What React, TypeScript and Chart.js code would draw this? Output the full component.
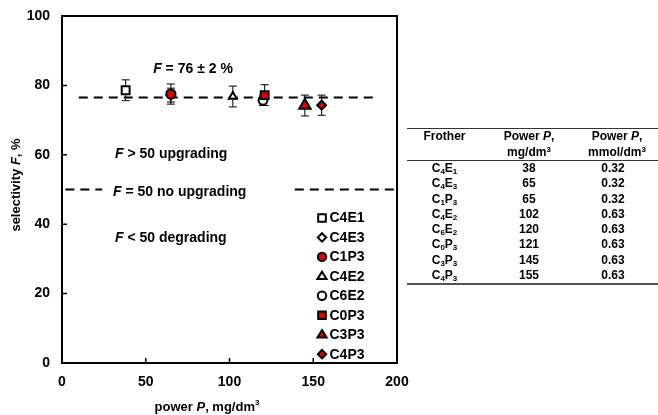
import React, { useEffect, useRef } from "react";
import { Chart, registerables } from "chart.js";
Chart.register(...registerables);

// ---------- data ----------
const frothers = ["C4E1", "C4E3", "C1P3", "C4E2", "C6E2", "C0P3", "C3P3", "C4P3"];
const powerMg = [38, 65, 65, 102, 120, 121, 145, 155];
const powerMmol = ["0.32", "0.32", "0.32", "0.63", "0.63", "0.63", "0.63", "0.63"];
const selectivity = [78.6, 77.2, 77.5, 76.8, 75.7, 77.2, 74.2, 74.3];
const errorF = [3.0, 2.0, 2.9, 3.0, 1.5, 3.0, 3.0, 2.9];
const meanF = 76.5;
const meanLineX = [10, 189];
const f50 = 50;
const f50LeftX = [2, 24];
const f50RightX = [139, 200];
const yTicks = [0, 20, 40, 60, 80, 100];
const xTicks = [0, 50, 100, 150, 200];

// ---------- styles ----------
const FONT = "Arial, 'Liberation Sans', sans-serif";
const RED = "#e00000";
const markerStyles = [
  { pointStyle: "rect", radius: 5.6, fill: "#ffffff" },
  { pointStyle: "rectRot", radius: 4.2, fill: "#ffffff" },
  { pointStyle: "circle", radius: 4.6, fill: RED },
  { pointStyle: "triangle", radius: 4.6, fill: "#ffffff" },
  { pointStyle: "circle", radius: 4.4, fill: "#ffffff" },
  { pointStyle: "rect", radius: 5.6, fill: RED },
  { pointStyle: "triangle", radius: 6.6, fill: RED },
  { pointStyle: "rectRot", radius: 4.4, fill: RED },
];

type Seg = { t: string; i?: boolean; sup?: boolean };

function drawRich(
  ctx: CanvasRenderingContext2D,
  segs: Seg[],
  x: number,
  y: number,
  size: number,
  align: "left" | "center"
) {
  const fontFor = (s: Seg) =>
    `${s.i ? "italic " : ""}bold ${s.sup ? Math.round(size * 0.65) : size}px ${FONT}`;
  let w = 0;
  for (const s of segs) {
    ctx.font = fontFor(s);
    w += ctx.measureText(s.t).width;
  }
  let cx = align === "center" ? x - w / 2 : x;
  const base = y + size * 0.36;
  ctx.fillStyle = "#000";
  ctx.textAlign = "left";
  ctx.textBaseline = "alphabetic";
  for (const s of segs) {
    ctx.font = fontFor(s);
    ctx.fillText(s.t, cx, s.sup ? base - size * 0.4 : base);
    cx += ctx.measureText(s.t).width;
  }
}

function drawMarker(ctx: CanvasRenderingContext2D, style: string, x: number, y: number, r: number) {
  ctx.beginPath();
  if (style === "rect") {
    const s = Math.SQRT1_2 * r;
    ctx.rect(x - s, y - s, 2 * s, 2 * s);
  } else if (style === "rectRot") {
    ctx.moveTo(x, y - r);
    ctx.lineTo(x + r, y);
    ctx.lineTo(x, y + r);
    ctx.lineTo(x - r, y);
    ctx.closePath();
  } else if (style === "circle") {
    ctx.arc(x, y, r, 0, Math.PI * 2);
  } else if (style === "triangle") {
    ctx.moveTo(x, y - r);
    ctx.lineTo(x + r, y + r * 0.6);
    ctx.lineTo(x - r, y + r * 0.6);
    ctx.closePath();
  }
  ctx.fill();
  ctx.stroke();
}

const decorPlugin = {
  id: "decor",
  beforeDatasetsDraw(chart: any) {
    const ctx = chart.ctx as CanvasRenderingContext2D;
    const xs = chart.scales.x;
    const ys = chart.scales.y;
    ctx.save();
    ctx.strokeStyle = "#000";
    ctx.lineWidth = 1;
    for (let i = 0; i < frothers.length; i++) {
      const px = xs.getPixelForValue(powerMg[i]);
      const top = ys.getPixelForValue(selectivity[i] + errorF[i]);
      const bot = ys.getPixelForValue(selectivity[i] - errorF[i]);
      ctx.beginPath();
      ctx.moveTo(px, top);
      ctx.lineTo(px, bot);
      ctx.moveTo(px - 4, top);
      ctx.lineTo(px + 4, top);
      ctx.moveTo(px - 4, bot);
      ctx.lineTo(px + 4, bot);
      ctx.stroke();
    }
    ctx.restore();
  },
  afterDraw(chart: any) {
    const ctx = chart.ctx as CanvasRenderingContext2D;
    const a = chart.chartArea;
    const xs = chart.scales.x;
    const ys = chart.scales.y;
    ctx.save();
    // frame
    ctx.strokeStyle = "#000";
    ctx.lineWidth = 2;
    ctx.strokeRect(a.left, a.top, a.right - a.left, a.bottom - a.top);
    // inner ticks
    ctx.lineWidth = 1.5;
    ctx.beginPath();
    for (const v of yTicks) {
      const py = ys.getPixelForValue(v);
      ctx.moveTo(a.left, py);
      ctx.lineTo(a.left + 5, py);
    }
    for (const v of xTicks) {
      const px = xs.getPixelForValue(v);
      ctx.moveTo(px, a.bottom);
      ctx.lineTo(px, a.bottom - 5);
    }
    ctx.stroke();

    // annotations
    drawRich(ctx, [{ t: "F", i: true }, { t: " = 76 ± 2 %" }], 193, 68, 14, "center");
    drawRich(ctx, [{ t: "F", i: true }, { t: " > 50 upgrading" }], 115, 153, 14, "left");
    drawRich(ctx, [{ t: "F", i: true }, { t: " = 50 no upgrading" }], 113, 191, 14, "left");
    drawRich(ctx, [{ t: "F", i: true }, { t: " < 50 degrading" }], 115, 237, 14, "left");

    // axis titles
    drawRich(
      ctx,
      [{ t: "power " }, { t: "P", i: true }, { t: ", mg/dm" }, { t: "3", sup: true }],
      207,
      406,
      13,
      "center"
    );
    ctx.save();
    ctx.translate(15, 185);
    ctx.rotate(-Math.PI / 2);
    drawRich(ctx, [{ t: "selectivity " }, { t: "F", i: true }, { t: ", %" }], 0, 0, 13, "center");
    ctx.restore();

    // legend
    const lx = 322;
    const ly0 = 218;
    const step = 19.45;
    for (let i = 0; i < frothers.length; i++) {
      const st = markerStyles[i];
      const y = ly0 + i * step;
      ctx.save();
      ctx.fillStyle = st.fill;
      ctx.strokeStyle = "#000";
      ctx.lineWidth = 2;
      const legR = st.pointStyle === "triangle" ? 4.6 : st.pointStyle === "rect" ? 5.4 : 4.2;
      drawMarker(ctx, st.pointStyle, lx, y, legR);
      ctx.restore();
      ctx.font = `bold 14px ${FONT}`;
      ctx.fillStyle = "#000";
      ctx.textAlign = "left";
      ctx.textBaseline = "middle";
      ctx.fillText(frothers[i], lx + 7.5, y + 0.5);
    }
    ctx.restore();
  },
};

function Name({ n }: { n: string }) {
  const parts = n.split(/(\d)/).filter((p) => p !== "");
  return (
    <>
      {parts.map((p, k) =>
        /\d/.test(p) ? (
          <span key={k} style={{ fontSize: 8, position: "relative", top: 2 }}>
            {p}
          </span>
        ) : (
          <span key={k}>{p}</span>
        )
      )}
    </>
  );
}

export default function App() {
  const ref = useRef<HTMLCanvasElement | null>(null);

  useEffect(() => {
    if (!ref.current) return;
    const scatterSets = frothers.map((f, i) => ({
      type: "scatter" as const,
      label: f,
      data: [{ x: powerMg[i], y: selectivity[i] }],
      pointStyle: markerStyles[i].pointStyle as any,
      pointRadius: markerStyles[i].radius,
      pointBackgroundColor: markerStyles[i].fill,
      pointBorderColor: "#000",
      pointBorderWidth: 2,
      showLine: false,
      order: -i,
    }));
    const lineSet = (xsArr: number[], yv: number) => ({
      type: "line" as const,
      label: "",
      data: xsArr.map((x) => ({ x, y: yv })),
      borderColor: "#000",
      borderWidth: 2,
      borderDash: [9, 6],
      pointRadius: 0,
      fill: false,
      order: 100,
    });
    const chart = new Chart(ref.current, {
      type: "scatter",
      data: {
        datasets: [
          ...scatterSets,
          lineSet(meanLineX, meanF),
          lineSet(f50LeftX, f50),
          lineSet(f50RightX, f50),
        ] as any,
      },
      options: {
        animation: false,
        responsive: true,
        maintainAspectRatio: false,
        layout: { padding: { left: 0, top: 16, right: 261, bottom: 0 } },
        plugins: {
          legend: { display: false },
          tooltip: { enabled: false },
        },
        scales: {
          x: {
            type: "linear",
            min: 0,
            max: 200,
            grid: { display: false, drawTicks: false },
            border: { display: false },
            ticks: {
              stepSize: 50,
              color: "#000",
              font: { family: FONT, size: 14, weight: "bold" },
              padding: 11,
            },
            afterFit: (s: any) => {
              s.height = 52;
              s.paddingLeft = 0;
              s.paddingRight = 0;
            },
          },
          y: {
            type: "linear",
            min: 0,
            max: 100,
            grid: { display: false, drawTicks: false },
            border: { display: false },
            ticks: {
              stepSize: 20,
              color: "#000",
              font: { family: FONT, size: 14, weight: "bold" },
              padding: 12,
            },
            afterFit: (s: any) => {
              s.width = 62;
              s.paddingTop = 0;
              s.paddingBottom = 0;
            },
          },
        },
      },
      plugins: [decorPlugin],
    });
    return () => chart.destroy();
  }, []);

  const cellBase: React.CSSProperties = { textAlign: "center" };
  const colW = [75, 94, 82];

  return (
    <div style={{ position: "absolute", left: 0, top: 0, width: 658, height: 415, background: "#fff" }}>
      <canvas ref={ref} />
      <div
        style={{
          position: "absolute",
          left: 407,
          top: 128,
          width: 251,
          fontFamily: FONT,
          fontWeight: "bold",
          fontSize: 12,
          color: "#000",
        }}
      >
        <div
          style={{
            display: "flex",
            borderTop: "1px solid #333",
            borderBottom: "1px solid #333",
            lineHeight: "15.5px",
            height: 31,
          }}
        >
          <div style={{ ...cellBase, width: colW[0] }}>Frother</div>
          <div style={{ ...cellBase, width: colW[1] }}>
            Power <i>P</i>,<br />
            mg/dm<span style={{ fontSize: 8, position: "relative", top: -4 }}>3</span>
          </div>
          <div style={{ ...cellBase, width: colW[2] }}>
            Power <i>P</i>,<br />
            mmol/dm<span style={{ fontSize: 8, position: "relative", top: -4 }}>3</span>
          </div>
        </div>
        <div style={{ borderBottom: "2px solid #555" }}>
          {frothers.map((f, i) => (
            <div key={f} style={{ display: "flex", lineHeight: "15.3px", height: 15.3 }}>
              <div style={{ ...cellBase, width: colW[0] }}>
                <Name n={f} />
              </div>
              <div style={{ ...cellBase, width: colW[1] }}>{powerMg[i]}</div>
              <div style={{ ...cellBase, width: colW[2] - 8 }}>{powerMmol[i]}</div>
            </div>
          ))}
        </div>
      </div>
    </div>
  );
}
